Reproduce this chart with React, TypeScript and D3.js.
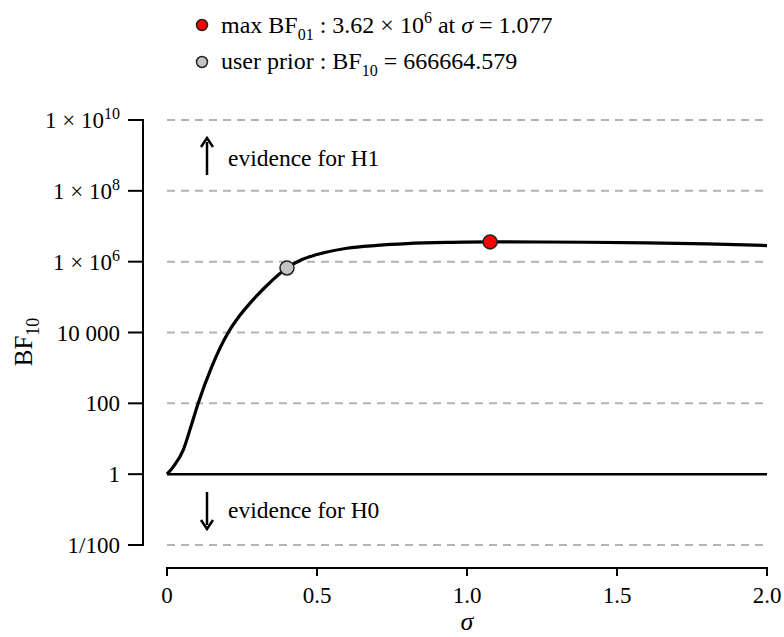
import React, { useEffect, useRef } from 'react';
import * as d3 from 'd3';

// sigma values and log10(BF10)
const sigmas = [0, 0.02, 0.054, 0.08, 0.104, 0.15, 0.204, 0.24, 0.277, 0.332, 0.4, 0.45, 0.5, 0.6, 0.7, 0.8, 0.95, 1.077, 1.25, 1.4, 1.6, 1.8, 2.0];
const logBF = [0, 0.2, 0.68, 1.35, 2.0, 3.05, 4.0, 4.45, 4.83, 5.32, 5.82, 6.06, 6.2, 6.38, 6.46, 6.51, 6.545, 6.559, 6.556, 6.548, 6.53, 6.5, 6.455];

const yTicks = [-2, 0, 2, 4, 6, 8, 10];
const yTickLabels = [['1/100', ''], ['1', ''], ['100', ''], ['10 000', ''], ['1 × 10', '6'], ['1 × 10', '8'], ['1 × 10', '10']];
const xTicks = [0, 0.5, 1.0, 1.5, 2.0];
const xTickLabels = ['0', '0.5', '1.0', '1.5', '2.0'];

const maxPoint = { sigma: 1.077, logBF: Math.log10(3.62e6) };
const userPoint = { sigma: 0.4, logBF: Math.log10(666664.579) };

const W = 784;
const H = 637;
const FONT = '"Liberation Serif", "Times New Roman", Times, serif';

const App = () => {
  const ref = useRef(null);

  useEffect(() => {
    const svg = d3.select(ref.current);
    svg.selectAll('*').remove();
    svg.attr('width', W).attr('height', H).attr('font-family', FONT).style('background', '#fff');

    const x = d3.scaleLinear().domain([0, 2]).range([167, 767]);
    const y = d3.scaleLinear().domain([-2, 10]).range([545, 120]);

    // grid lines
    svg.selectAll('.grid')
      .data(yTicks.filter(t => t !== 0))
      .enter()
      .append('line')
      .attr('x1', x(0))
      .attr('x2', x(2))
      .attr('y1', d => y(d))
      .attr('y2', d => y(d))
      .attr('stroke', '#b3b3b3')
      .attr('stroke-width', 2)
      .attr('stroke-dasharray', '8,6');

    // BF = 1 line
    svg.append('line')
      .attr('x1', x(0)).attr('x2', x(2))
      .attr('y1', y(0)).attr('y2', y(0))
      .attr('stroke', '#000').attr('stroke-width', 2.5);

    // Y axis
    const yAxis = svg.append('g');
    yAxis.append('line')
      .attr('x1', 143).attr('x2', 143)
      .attr('y1', y(10) - 1).attr('y2', y(-2) + 1)
      .attr('stroke', '#000').attr('stroke-width', 2);
    yAxis.selectAll('.ytick')
      .data(yTicks)
      .enter()
      .append('line')
      .attr('x1', 128).attr('x2', 143)
      .attr('y1', d => y(d)).attr('y2', d => y(d))
      .attr('stroke', '#000').attr('stroke-width', 2);
    const yl = yAxis.selectAll('.ylab')
      .data(yTicks)
      .enter()
      .append('text')
      .attr('x', 120)
      .attr('y', d => y(d) + 8)
      .attr('text-anchor', 'end')
      .style('font-size', '23px')
      .style('fill', '#000');
    yl.append('tspan').text((d, i) => yTickLabels[i][0]);
    yl.append('tspan')
      .attr('dy', -9)
      .style('font-size', '16px')
      .text((d, i) => yTickLabels[i][1]);

    // y label
    const ylab = svg.append('text')
      .attr('transform', `translate(32,342) rotate(-90)`)
      .attr('text-anchor', 'middle')
      .style('font-size', '25px');
    ylab.append('tspan').text('BF');
    ylab.append('tspan').attr('dy', 7).style('font-size', '18px').text('10');

    // X axis
    const xAxis = svg.append('g');
    xAxis.append('line')
      .attr('x1', x(0) - 1).attr('x2', x(2) + 1)
      .attr('y1', 568).attr('y2', 568)
      .attr('stroke', '#000').attr('stroke-width', 2);
    xAxis.selectAll('.xtick')
      .data(xTicks)
      .enter()
      .append('line')
      .attr('x1', d => x(d)).attr('x2', d => x(d))
      .attr('y1', 568).attr('y2', 576)
      .attr('stroke', '#000').attr('stroke-width', 2);
    xAxis.selectAll('.xlab')
      .data(xTicks)
      .enter()
      .append('text')
      .attr('x', d => x(d))
      .attr('y', 603)
      .attr('text-anchor', 'middle')
      .style('font-size', '23px')
      .text((d, i) => xTickLabels[i]);
    svg.append('text')
      .attr('x', x(1))
      .attr('y', 630)
      .attr('text-anchor', 'middle')
      .style('font-size', '26px')
      .style('font-style', 'italic')
      .text('σ');

    // curve
    const data = sigmas.map((s, i) => ({ s, v: logBF[i] }));
    const line = d3.line()
      .x(d => x(d.s))
      .y(d => y(d.v))
      .curve(d3.curveMonotoneX);
    svg.append('path')
      .datum(data)
      .attr('fill', 'none')
      .attr('stroke', '#000')
      .attr('stroke-width', 3.2)
      .attr('d', line);

    // points
    svg.append('circle')
      .attr('cx', x(userPoint.sigma)).attr('cy', y(userPoint.logBF))
      .attr('r', 7).attr('fill', '#c4c4c4').attr('stroke', '#222').attr('stroke-width', 1.5);
    svg.append('circle')
      .attr('cx', x(maxPoint.sigma)).attr('cy', y(maxPoint.logBF))
      .attr('r', 7).attr('fill', '#ff0000').attr('stroke', '#222').attr('stroke-width', 1.5);

    // evidence arrows
    const arrowX = 207;
    const arrowUp = svg.append('g');
    arrowUp.append('line')
      .attr('x1', arrowX).attr('x2', arrowX).attr('y1', 175).attr('y2', 142)
      .attr('stroke', '#000').attr('stroke-width', 2.5);
    arrowUp.append('path')
      .attr('d', `M${arrowX - 6},${147} L${arrowX},${138} L${arrowX + 6},${147}`)
      .attr('fill', 'none').attr('stroke', '#000').attr('stroke-width', 2.5);
    svg.append('text')
      .attr('x', 228).attr('y', 166)
      .style('font-size', '23.5px')
      .text('evidence for H1');

    const arrowDown = svg.append('g');
    arrowDown.append('line')
      .attr('x1', arrowX).attr('x2', arrowX).attr('y1', 492).attr('y2', 525)
      .attr('stroke', '#000').attr('stroke-width', 2.5);
    arrowDown.append('path')
      .attr('d', `M${arrowX - 6},${520} L${arrowX},${529} L${arrowX + 6},${520}`)
      .attr('fill', 'none').attr('stroke', '#000').attr('stroke-width', 2.5);
    svg.append('text')
      .attr('x', 228).attr('y', 518)
      .style('font-size', '23.5px')
      .text('evidence for H0');

    // legend
    svg.append('circle')
      .attr('cx', 202).attr('cy', 25).attr('r', 5.5)
      .attr('fill', '#ff0000').attr('stroke', '#222').attr('stroke-width', 1.5);
    const l1 = svg.append('text').attr('x', 221).attr('y', 33).style('font-size', '24px');
    l1.append('tspan').text('max BF');
    l1.append('tspan').attr('dy', 7).style('font-size', '16px').text('01');
    l1.append('tspan').attr('dy', -7).text(' : 3.62 × 10');
    l1.append('tspan').attr('dy', -10).style('font-size', '16px').text('6');
    l1.append('tspan').attr('dy', 10).text(' at ');
    l1.append('tspan').style('font-style', 'italic').text('σ');
    l1.append('tspan').text(' = 1.077');

    svg.append('circle')
      .attr('cx', 202).attr('cy', 62).attr('r', 5.5)
      .attr('fill', '#c4c4c4').attr('stroke', '#222').attr('stroke-width', 1.5);
    const l2 = svg.append('text').attr('x', 221).attr('y', 69).style('font-size', '24px');
    l2.append('tspan').text('user prior : BF');
    l2.append('tspan').attr('dy', 7).style('font-size', '16px').text('10');
    l2.append('tspan').attr('dy', -7).text(' = 666664.579');
  }, []);

  return <svg ref={ref} style={{ position: 'absolute', left: 0, top: 0 }}></svg>;
};

export default App;
